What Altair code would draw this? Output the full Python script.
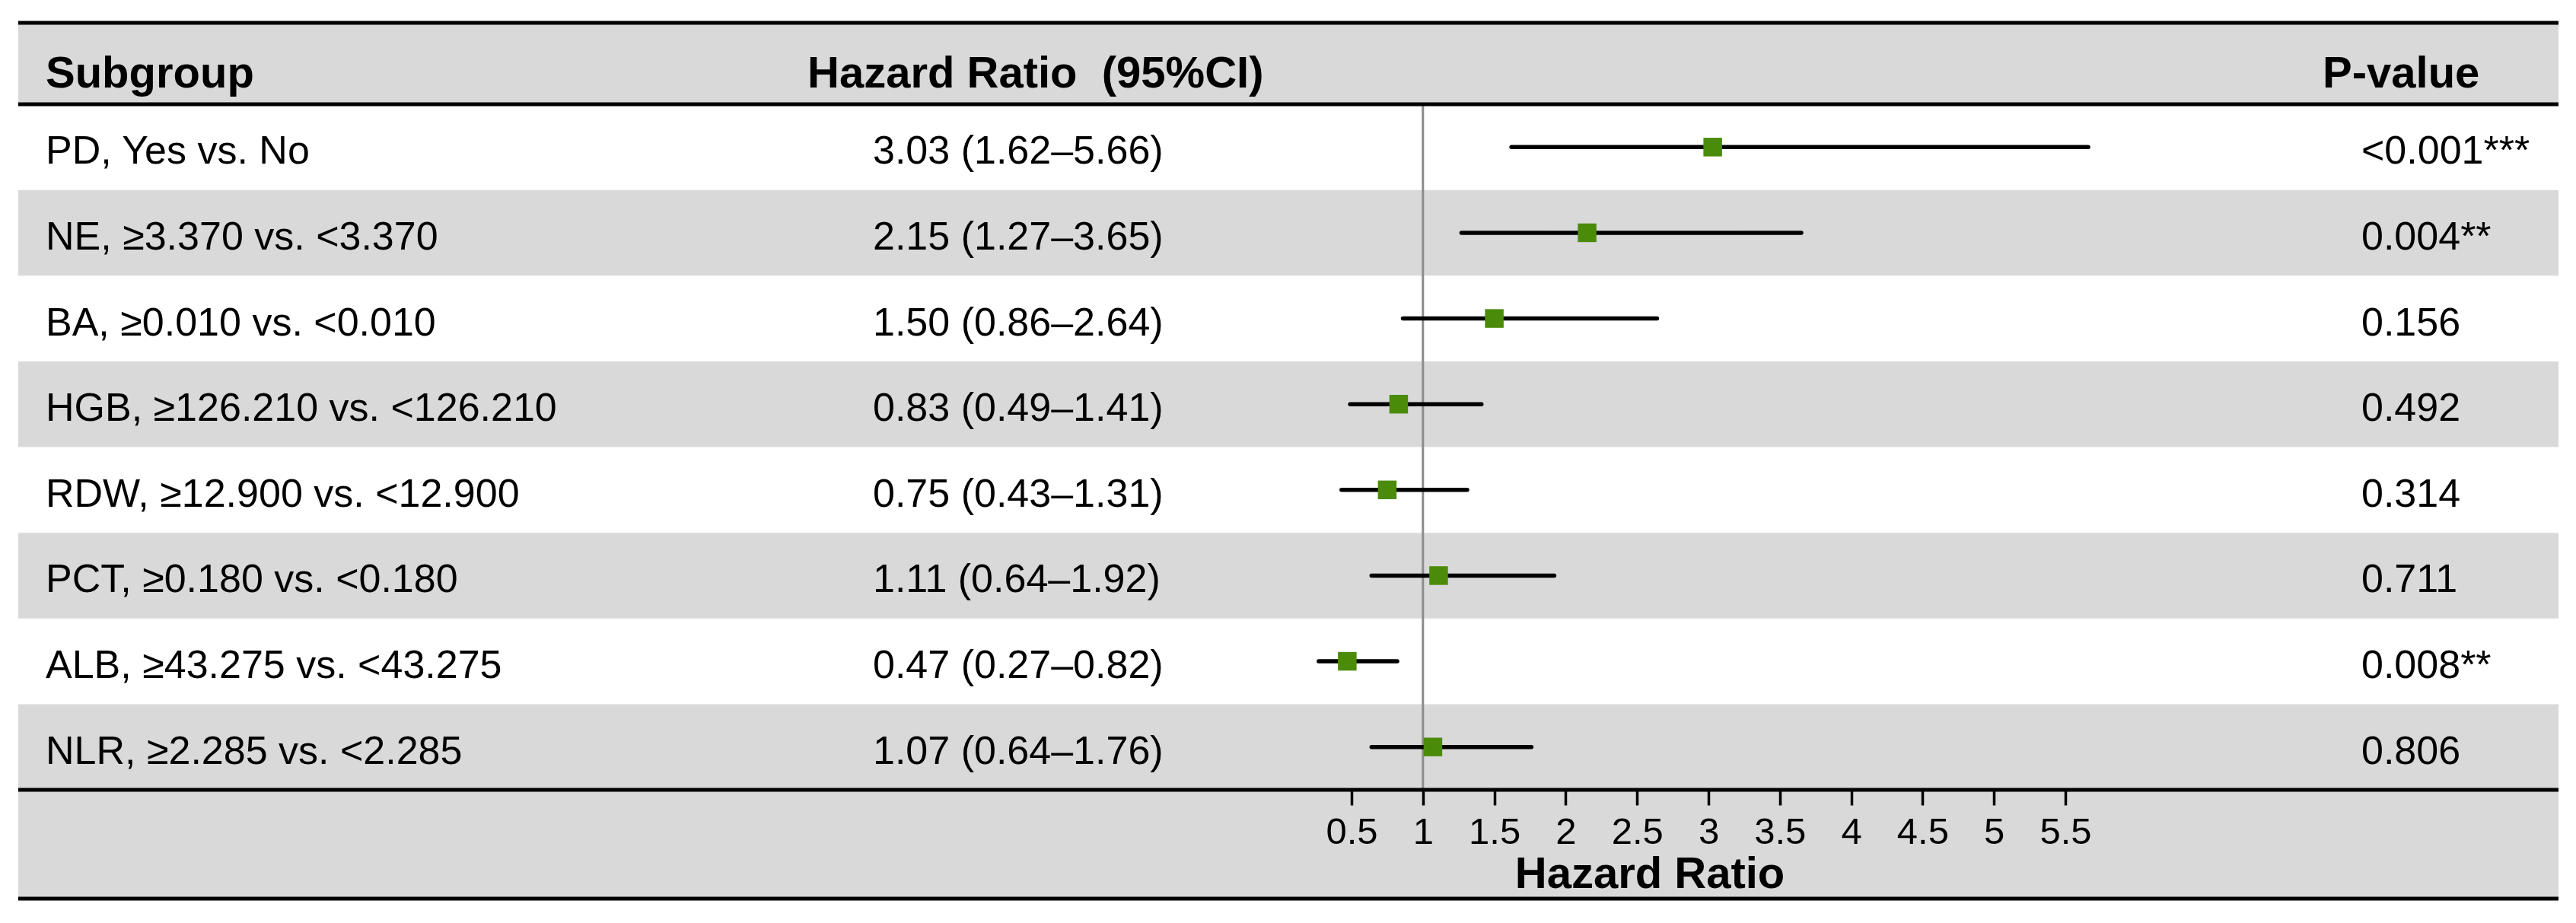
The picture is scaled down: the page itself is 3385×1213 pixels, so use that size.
import altair as alt
import pandas as pd

# ---------------- data ----------------
subgroups = [
    "PD, Yes vs. No",
    "NE, ≥3.370 vs. <3.370",
    "BA, ≥0.010 vs. <0.010",
    "HGB, ≥126.210 vs. <126.210",
    "RDW, ≥12.900 vs. <12.900",
    "PCT, ≥0.180 vs. <0.180",
    "ALB, ≥43.275 vs. <43.275",
    "NLR, ≥2.285 vs. <2.285",
]
hr = [3.03, 2.15, 1.50, 0.83, 0.75, 1.11, 0.47, 1.07]
lower = [1.62, 1.27, 0.86, 0.49, 0.43, 0.64, 0.27, 0.64]
upper = [5.66, 3.65, 2.64, 1.41, 1.31, 1.92, 0.82, 1.76]
pvalues = ["<0.001***", "0.004**", "0.156", "0.492", "0.314", "0.711", "0.008**", "0.806"]
shaded = [False, True, False, True, False, True, False, True]
x_ticks = [0.5, 1, 1.5, 2, 2.5, 3, 3.5, 4, 4.5, 5, 5.5]
ref_value = [1]

headers = ["Subgroup", "Hazard Ratio\u00a0 (95%CI)", "P-value"]
axis_title = "Hazard Ratio"

df = pd.DataFrame({
    "subgroup": subgroups,
    "hr": hr,
    "lower": lower,
    "upper": upper,
    "p": pvalues,
    "shaded": shaded,
})
df["hr_text"] = [f"{h:.2f} ({l:.2f}\u2013{u:.2f})" for h, l, u in zip(hr, lower, upper)]

# ---------------- layout / style ----------------
FONT = "Liberation Sans"
W, H = 3338, 1008
HEADER_B = 107
AXIS_B = 1151
GREY = "#D9D9D9"
GREEN = "#4B8B0A"

one = pd.DataFrame({"k": [0]})

yscale = alt.Scale(type="band", domain=subgroups, range=[HEADER_B, H],
                   paddingInner=0, paddingOuter=0)
xscale = alt.Scale(domain=[0.5, 5.5], range=[1752, 2690], nice=False, zero=False)
xaxis = alt.Axis(values=x_ticks, labelExpr="toString(datum.value)", domain=False,
                 grid=False, ticks=True, tickSize=20, tickWidth=3.5, tickColor="black",
                 labelFontSize=49, labelFont=FONT, labelColor="black", labelPadding=11,
                 labelFlush=False, labelOverlap=False, title=None, zindex=1)
Y = alt.Y("subgroup:N", scale=yscale, axis=None)

header_bg = alt.Chart(one).mark_rect(color=GREY).encode(
    x=alt.value(0), x2=alt.value(W), y=alt.value(0), y2=alt.value(HEADER_B))
axis_bg = alt.Chart(one).mark_rect(color=GREY).encode(
    x=alt.value(0), x2=alt.value(W), y=alt.value(H), y2=alt.value(AXIS_B))
row_bg = alt.Chart(df).transform_filter("datum.shaded").mark_rect(color=GREY).encode(
    x=alt.value(0), x2=alt.value(W), y=Y)

ref = alt.Chart(pd.DataFrame({"ref": ref_value})).mark_rule(
    color="#8C8C8C", strokeWidth=3).encode(
    x=alt.X("ref:Q", scale=xscale, axis=xaxis),
    y=alt.value(HEADER_B), y2=alt.value(H))

ci = alt.Chart(df).mark_rule(color="black", strokeWidth=5.5, strokeCap="round").encode(
    x=alt.X("lower:Q", scale=xscale, axis=xaxis), x2="upper:Q", y=Y)

pts = alt.Chart(df).mark_point(shape="square", filled=True, size=600, color=GREEN,
                               opacity=1).encode(
    x=alt.X("hr:Q", scale=xscale, axis=xaxis), y=Y)

txt_kw = dict(align="left", baseline="alphabetic", dy=22, fontSize=52, font=FONT, color="black")
sub_txt = alt.Chart(df).mark_text(**txt_kw).encode(x=alt.value(36), y=Y, text="subgroup:N")
hr_txt = alt.Chart(df).mark_text(**txt_kw).encode(x=alt.value(1123), y=Y, text="hr_text:N")
p_txt = alt.Chart(df).mark_text(**txt_kw).encode(x=alt.value(3079), y=Y, text="p:N")

hdr_kw = dict(align="left", baseline="alphabetic", fontSize=58, fontWeight="bold",
              font=FONT, color="black")
h1 = alt.Chart(one).mark_text(text=headers[0], **hdr_kw).encode(x=alt.value(36), y=alt.value(85))
h2 = alt.Chart(one).mark_text(text=headers[1], **hdr_kw).encode(x=alt.value(1037), y=alt.value(85))
h3 = alt.Chart(one).mark_text(text=headers[2], **hdr_kw).encode(x=alt.value(3028), y=alt.value(85))
atitle = alt.Chart(one).mark_text(text=axis_title, align="center", baseline="alphabetic",
                                  fontSize=58, fontWeight="bold", font=FONT,
                                  color="black").encode(x=alt.value(2144), y=alt.value(1137))

def hline(yv):
    return alt.Chart(one).mark_rule(color="black", strokeWidth=5).encode(
        x=alt.value(0), x2=alt.value(W), y=alt.value(yv))

chart = alt.layer(
    header_bg, axis_bg, row_bg, ref, ci, pts,
    sub_txt, hr_txt, p_txt, h1, h2, h3, atitle,
    hline(0), hline(HEADER_B), hline(H), hline(AXIS_B),
).properties(
    width=W, height=H,
    padding={"left": 16, "top": 22, "right": 15, "bottom": 165},
    autosize=alt.AutoSizeParams(type="none"),
).configure_view(stroke=None)

chart.save("out.html", embed_options={"renderer": "svg", "actions": False})
